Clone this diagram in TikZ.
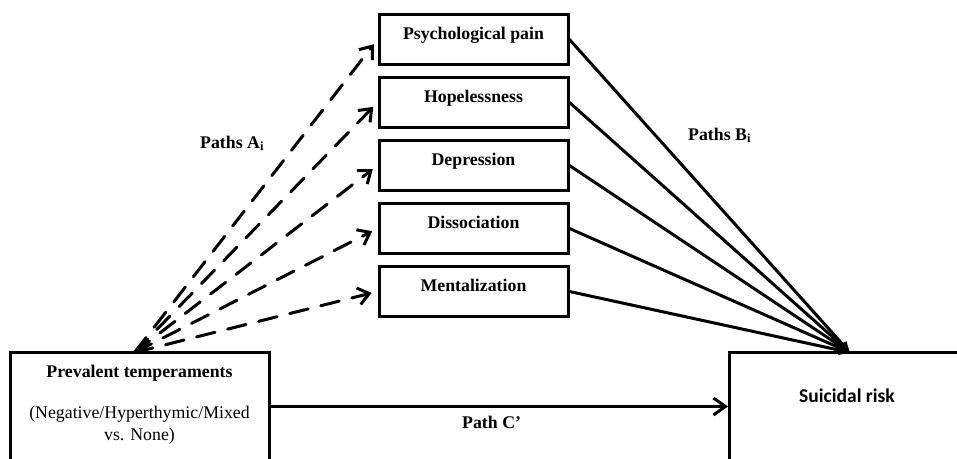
\documentclass[tikz,border=0pt]{standalone}
\usepackage{fontspec}
\setmainfont{Liberation Serif}
\newfontfamily\riskfont{Carlito}
\usepackage{tikz}
\usetikzlibrary{arrows.meta, calc, positioning}
\tikzset{
	medbox/.style={draw, line width=3pt, minimum width=189pt, inner ysep=0pt, text height=25pt, text depth=25pt, font=\fontsize{17.8}{20}\selectfont\bfseries},
	bigbox/.style={draw, line width=3pt, inner ysep=0pt, font=\fontsize{17.8}{20}\selectfont\bfseries},
	lab/.style={inner sep=0pt, font=\fontsize{17.8}{20}\selectfont\bfseries},
	apath/.style={line width=3pt, dash pattern=on 19pt off 13pt, shorten >=6pt, -{Straight Barb[length=11pt, width=17pt]}},
	bpath/.style={line width=3pt, -{Triangle[length=11pt, width=9pt]}},
	cpath/.style={line width=3pt, -{Straight Barb[length=12pt, width=17pt]}}
}
\def\scale{1}

\begin{document}
\begin{tikzpicture}[x=\scale pt, y=-\scale pt, line cap = round]

	\clip (0,0) rectangle (957,458);
	\useasboundingbox (0,0) rectangle (957,458);

	\node[medbox, anchor=north] (pain) at (473.5,13) {Psychological pain};
	\node[medbox, below=10pt of pain] (hope) {Hopelessness};
	\node[medbox, below=10pt of hope] (depr) {Depression};
	\node[medbox, below=10pt of depr] (diss) {Dissociation};
	\node[medbox, below=10pt of diss] (ment) {Mentalization};

	\node[bigbox, minimum width=259pt, text height=25pt, text depth=95pt, anchor=north] (temp) at (139.5,351) {Prevalent temperaments};
	\node[lab, font=\fontsize{17.8}{22}\selectfont, align=center, anchor=base] (tempsub) at ($ (temp.north)+(0,89) $) {(Negative/Hyperthymic/Mixed\\vs. None)};

	\node[bigbox, minimum width=235pt, text height=50pt, text depth=70pt, font=\riskfont\fontsize{19.5}{22}\selectfont\bfseries, anchor=north] (risk) at (847,351) {Suicidal risk};

	\coordinate (Tout) at ($ (temp.north west)+(126,1.5) $);
	\coordinate (Rin) at ($ (risk.north west)+(122,1.5) $);

	\draw[apath] (Tout) -- (pain.west);
	\draw[apath] (Tout) -- (hope.west);
	\draw[apath] (Tout) -- (depr.west);
	\draw[apath] (Tout) -- (diss.west);
	\draw[apath] (Tout) -- (ment.west);

	\draw[bpath] (pain.east) -- (Rin);
	\draw[bpath] (hope.east) -- (Rin);
	\draw[bpath] (depr.east) -- (Rin);
	\draw[bpath] (diss.east) -- (Rin);
	\draw[bpath] (ment.east) -- (Rin);

	\draw[cpath] ([yshift=6pt]temp.east) -- ([yshift=6pt]temp.east -| risk.west);

	\node[lab, anchor=base west] (pathA) at (200,148) {Paths A\textsubscript{i}};
	\node[lab, anchor=base west] (pathB) at (688,140) {Paths B\textsubscript{i}};
	\node[lab, anchor=base west] (pathC) at (462,428) {Path C'};

\end{tikzpicture}
\end{document}
